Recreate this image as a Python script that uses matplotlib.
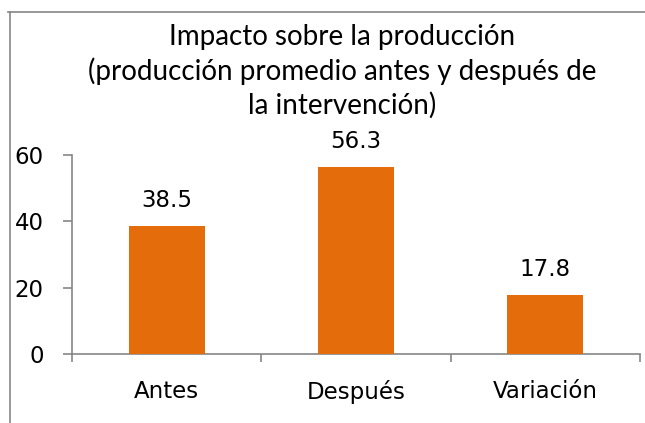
import matplotlib
matplotlib.use("Agg")
import matplotlib.pyplot as plt
from matplotlib.lines import Line2D

categorias = ["Antes", "Después", "Variación"]
valores = [38.5, 56.3, 17.8]
etiquetas = ["38.5", "56.3", "17.8"]
ticks_y = [0, 20, 40, 60]

titulo = ("Impacto sobre la producción\n"
          "(producción promedio antes y después de\n"
          "la intervención)")

NARANJA = "#E46C0A"
GRIS = "#868686"

fig = plt.figure(figsize=(6.45, 4.23), dpi=100)
ax = fig.add_axes([0.1116, 0.1631, 0.8806, 0.4705])

x = range(len(categorias))
barras = ax.bar(x, valores, width=0.4, color=NARANJA, zorder=3)

for barra, txt in zip(barras, etiquetas):
    ax.annotate(txt, (barra.get_x() + barra.get_width() / 2, barra.get_height()),
                xytext=(0, 10), textcoords="offset points",
                ha="center", va="bottom", fontsize=16.5, family="DejaVu Sans")

ax.set_ylim(0, 60)
ax.set_xlim(-0.5, len(categorias) - 0.5)
ax.set_yticks(ticks_y)
ax.set_xticks(list(x))
ax.set_xticklabels(categorias, fontsize=16.5)
ax.set_xticks([-0.5, 0.5, 1.5, 2.5], minor=True)
ax.tick_params(axis="x", which="major", length=0, pad=19)
ax.tick_params(axis="x", which="minor", length=6, color=GRIS, width=1.2)
ax.tick_params(axis="y", length=6.5, color=GRIS, width=1.2, pad=14, labelsize=16.5)

for lado in ["top", "right"]:
    ax.spines[lado].set_visible(False)
for lado in ["left", "bottom"]:
    ax.spines[lado].set_color(GRIS)
    ax.spines[lado].set_linewidth(1.2)

fig.text(0.53, 0.944, titulo, ha="center", va="top", fontsize=20,
         family="Lato", linespacing=1.32)

# marco del grafico (recortado a la derecha y abajo)
fig.add_artist(Line2D([8 / 645, 1], [1 - 12 / 423] * 2, color=GRIS, lw=1.2))
fig.add_artist(Line2D([10 / 645] * 2, [0, 1 - 12 / 423], color=GRIS, lw=1.2))

fig.savefig("out.png", dpi=100)
